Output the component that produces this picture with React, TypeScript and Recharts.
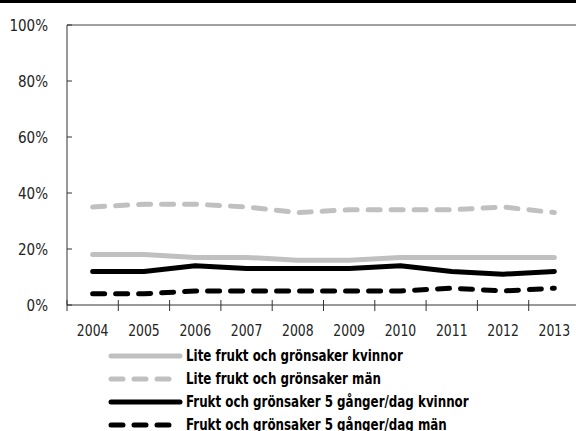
import React from 'react';
import { LineChart, Line, XAxis, YAxis, ReferenceLine } from 'recharts';

const years = ['2004', '2005', '2006', '2007', '2008', '2009', '2010', '2011', '2012', '2013'];
const liteKvinnor = [18, 18, 17, 17, 16, 16, 17, 17, 17, 17];
const liteMan = [35, 36, 36, 35, 33, 34, 34, 34, 35, 33];
const femKvinnor = [12, 12, 14, 13, 13, 13, 14, 12, 11, 12];
const femMan = [4, 4, 5, 5, 5, 5, 5, 6, 5, 6];
const yTicks = [0, 20, 40, 60, 80, 100];

const seriesNames = [
  'Lite frukt och grönsaker kvinnor',
  'Lite frukt och grönsaker män',
  'Frukt och grönsaker 5 gånger/dag kvinnor',
  'Frukt och grönsaker 5 gånger/dag män',
];

const data = years.map((year, i) => ({
  year,
  liteKvinnor: liteKvinnor[i],
  liteMan: liteMan[i],
  femKvinnor: femKvinnor[i],
  femMan: femMan[i],
}));

const FONT = '"Liberation Sans Narrow", "DejaVu Sans Condensed", "DejaVu Sans", sans-serif';
const GRAY = '#c0c0c0';
const AXIS = '#333';
const DASH = '12 11';

const CHART_W = 600;
const CHART_H = 431;
const LEFT = 67;
const RIGHT = 20;
const STEP = (CHART_W - LEFT - RIGHT) / years.length;

const series = [
  { key: 'liteKvinnor', color: GRAY, dash: undefined },
  { key: 'liteMan', color: GRAY, dash: DASH },
  { key: 'femKvinnor', color: '#000', dash: undefined },
  { key: 'femMan', color: '#000', dash: DASH },
];

const textStyle = { fontStretch: 'condensed' as const };

function YTick({ x, y, payload }: any) {
  return (
    <g>
      <line x1={x + 19} x2={x + 24} y1={y} y2={y} stroke={AXIS} />
      <text x={x} y={y} dy={6} textAnchor="end" fontFamily={FONT} fontSize={15} fill="#222" style={textStyle}>
        {payload.value}%
      </text>
    </g>
  );
}

function XTick({ x, y, payload }: any) {
  const bx = x - STEP / 2;
  return (
    <g>
      <line x1={bx} x2={bx} y1={y - 5} y2={y + 6} stroke={AXIS} />
      <text
        transform={`translate(${x},${y + 31}) scale(0.92,1)`}
        textAnchor="middle"
        fontFamily={FONT}
        fontSize={15}
        fill="#222"
        style={textStyle}
      >
        {payload.value}
      </text>
    </g>
  );
}

function LegendBox() {
  return (
    <div
      style={{
        position: 'absolute',
        left: 108,
        top: 344,
        fontFamily: FONT,
        fontStretch: 'condensed',
        fontWeight: 'bold',
        fontSize: 15,
      }}
    >
      {series.map((s, i) => (
        <div key={s.key} style={{ display: 'flex', alignItems: 'center', height: 23 }}>
          <svg width={78} height={10} style={{ flex: 'none' }}>
            <line
              x1={3}
              x2={s.dash ? 64 : 72}
              y1={5}
              y2={5}
              stroke={s.color}
              strokeWidth={5}
              strokeLinecap="round"
              strokeDasharray={s.dash}
            />
          </svg>
          <span
            style={{
              color: '#000',
              whiteSpace: 'nowrap',
              display: 'inline-block',
              transform: 'scaleX(0.88)',
              transformOrigin: 'left center',
            }}
          >
            {seriesNames[i]}
          </span>
        </div>
      ))}
    </div>
  );
}

export default function App() {
  return (
    <div style={{ position: 'fixed', left: 0, top: 0, width: 576, height: 431, overflow: 'hidden', background: '#fff' }}>
      <div style={{ position: 'absolute', left: 0, top: 0, width: 576, height: 3, background: '#000' }} />
      <LineChart width={CHART_W} height={CHART_H} data={data} margin={{ top: 25, right: RIGHT, bottom: 96, left: 0 }}>
        <XAxis
          dataKey="year"
          height={30}
          padding={{ left: STEP / 2, right: STEP / 2 }}
          axisLine={{ stroke: AXIS }}
          tickLine={false}
          tickSize={0}
          tickMargin={0}
          interval={0}
          tick={<XTick />}
        />
        <YAxis
          type="number"
          domain={[0, 100]}
          ticks={yTicks}
          width={LEFT}
          axisLine={{ stroke: AXIS }}
          tickLine={false}
          tickSize={0}
          tickMargin={19}
          tick={<YTick />}
        />
        <ReferenceLine y={100} stroke="#808080" strokeWidth={1.5} />
        {series.map((s) => (
          <Line
            key={s.key}
            type="linear"
            dataKey={s.key}
            stroke={s.color}
            strokeWidth={5}
            strokeDasharray={s.dash}
            strokeLinecap="round"
            strokeLinejoin="round"
            dot={false}
            activeDot={false}
            isAnimationActive={false}
          />
        ))}
      </LineChart>
      <LegendBox />
    </div>
  );
}
